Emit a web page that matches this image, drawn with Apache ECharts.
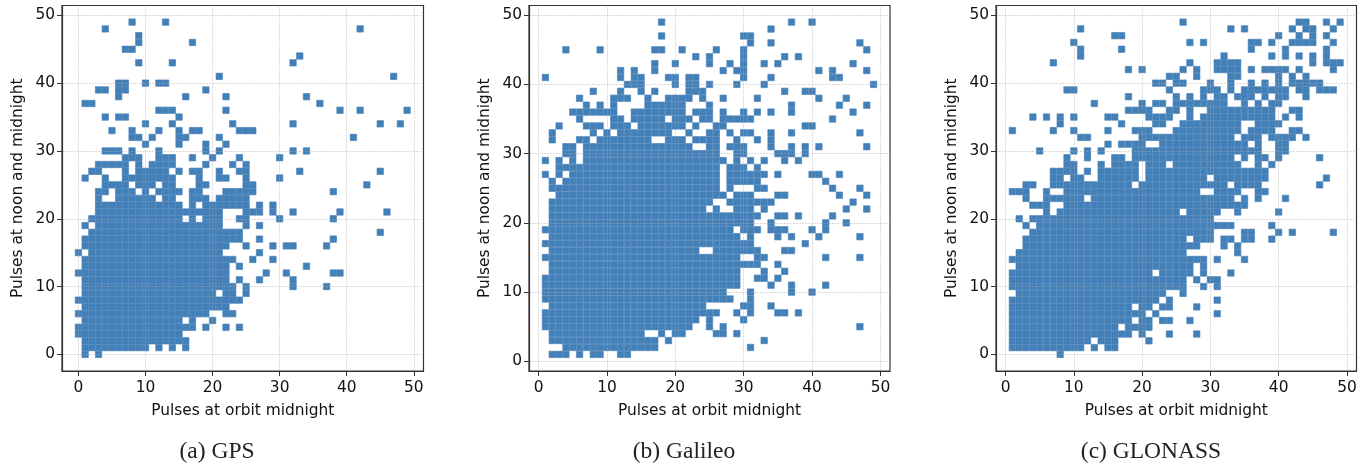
<!DOCTYPE html>
<html>
<head>
<meta charset="utf-8">
<style>
  html, body { margin: 0; padding: 0; background: #fff; }
  #chart { width: 1367px; height: 466px; }
</style>
<script src="https://cdn.jsdelivr.net/npm/echarts@6/dist/echarts.min.js"></script>
</head>
<body>
<div id="chart"></div>
<script>
// each row lists the x values seen at y = row index
const gpsRows = [
  [1,3],
  [1,2,3,4,5,6,7,8,9,10,12,14,16],
  [1,2,3,4,5,6,7,8,9,10,11,12,13,14,15,16],
  [0,1,2,3,4,5,6,7,8,9,10,11,12,13,14,15],
  [0,1,2,3,4,5,6,7,8,9,10,11,12,13,14,15,16,17,19,22,24],
  [1,2,3,4,5,6,7,8,9,10,11,12,13,14,15,17,20],
  [0,1,2,3,4,5,6,7,8,9,10,11,12,13,14,15,16,17,18,19,22,23],
  [1,2,3,4,5,6,7,8,9,10,11,12,13,14,15,16,17,18,19,20,21,22],
  [0,1,2,3,4,5,6,7,8,9,10,11,12,13,14,15,16,17,18,19,20,21,22,23,24],
  [1,2,3,4,5,6,7,8,9,10,11,12,13,14,15,16,17,18,19,20,22,23,25],
  [1,2,3,4,5,6,7,8,9,10,11,12,13,14,15,16,17,18,19,20,21,22,23,25,32,37],
  [1,2,3,4,5,6,7,8,9,10,11,12,13,14,15,16,17,18,19,20,21,22,24,27,32],
  [0,1,2,3,4,5,6,7,8,9,10,11,12,13,14,15,16,17,18,19,20,21,22,28,31,38,39],
  [1,2,3,4,5,6,7,8,9,10,11,12,13,14,15,16,17,18,19,20,21,22,24,34],
  [1,2,3,4,5,6,7,8,9,10,11,12,13,14,15,16,17,18,19,20,21,22,23,26,29],
  [0,2,3,4,5,6,7,8,9,10,11,12,13,14,15,16,17,18,19,20,21,27],
  [1,2,3,4,5,6,7,8,9,10,11,12,13,14,15,16,17,18,19,20,21,22,25,29,31,32,37],
  [1,2,3,4,5,6,7,8,9,10,11,12,13,14,15,16,17,18,19,20,21,22,23,24,27,38],
  [2,3,4,5,6,7,8,9,10,11,12,13,14,15,16,17,18,19,20,21,22,23,24,45],
  [1,3,4,5,6,7,8,9,10,11,12,13,14,15,16,17,18,19,20,21,25,27],
  [2,3,4,5,6,7,8,9,10,11,12,13,14,15,17,19,20,21,24,25,30,38],
  [3,4,5,6,7,8,9,10,11,12,13,14,15,16,17,18,19,20,21,25,26,27,29,32,39,46],
  [3,4,5,6,7,8,9,10,11,12,13,14,15,17,19,20,21,22,23,24,25,27,29],
  [3,6,7,8,9,10,11,13,14,17,18,19,21,22,23,24,25],
  [3,4,6,7,8,10,12,13,14,15,17,18,22,23,24,25,26,38],
  [4,5,6,7,9,10,11,13,14,18,19,25,26,43],
  [1,4,7,8,9,10,11,12,13,14,18,21,22,25,30],
  [2,3,7,9,10,11,12,13,15,17,18,21,24,25,33,45],
  [3,4,5,6,7,9,11,12,13,14,19,23,25],
  [7,8,9,12,13,14,17,20,24,30],
  [4,5,6,8,12,19,21,32,34],
  [10,15,19,22],
  [8,9,11,15,16,21,41],
  [5,8,12,15,17,18,24,25,26],
  [10,14,23,32,45,48],
  [4,6,7,15],
  [12,13,14,22,39,42,49],
  [1,2,36],
  [6,16,22,34],
  [3,4,6,7,19],
  [6,7,10,12,13],
  [21,47],
  [],
  [9,14,32],
  [33],
  [7,8],
  [9,17],
  [9],
  [4,42],
  [8,13]
];
const galileoRows = [
  [],
  [2,3,4,6,8,9,12,13],
  [4,5,6,7,8,9,10,11,12,13,14,15,16,17,31],
  [2,3,4,5,6,7,8,9,10,11,12,13,14,15,16,17,19,33],
  [2,3,4,5,6,7,8,9,10,11,12,13,14,15,18,20,21,26,27,29],
  [1,2,3,4,5,6,7,8,9,10,11,12,13,14,15,16,17,18,19,20,21,22,25,27,47],
  [1,2,3,4,5,6,7,8,9,10,11,12,13,14,15,16,17,18,19,20,21,22,23,25,30],
  [1,2,3,4,5,6,7,8,9,10,11,12,13,14,15,16,17,18,19,20,21,22,23,24,25,26,29,31,35,36,38],
  [2,3,4,5,6,7,8,9,10,11,12,13,14,15,16,17,18,19,20,21,22,23,24,30,31,34],
  [1,2,3,4,5,6,7,8,9,10,11,12,13,14,15,16,17,18,19,20,21,22,23,24,25,26,27,28,31],
  [1,2,3,4,5,6,7,8,9,10,11,12,13,14,15,16,17,18,19,20,21,22,23,24,25,26,27,31,37,40],
  [1,2,3,4,5,6,7,8,9,10,11,12,13,14,15,16,17,18,19,20,21,22,23,24,25,26,27,28,29,34,37,42],
  [1,2,3,4,5,6,7,8,9,10,11,12,13,14,15,16,17,18,19,20,21,22,23,24,25,26,27,28,29,32,33,35],
  [2,3,4,5,6,7,8,9,10,11,12,13,14,15,16,17,18,19,20,21,22,23,24,25,26,27,28,29,33,36],
  [2,3,4,5,6,7,8,9,10,11,12,13,14,15,16,17,18,19,20,21,22,23,24,25,26,27,28,29,30,31,32,35],
  [1,2,3,4,5,6,7,8,9,10,11,12,13,14,15,16,17,18,19,20,21,22,23,24,25,26,27,28,29,32,33,42,47],
  [2,3,4,5,6,7,8,9,10,11,12,13,14,15,16,17,18,19,20,21,22,23,26,27,28,29,30,31,32,36,37],
  [1,2,3,4,5,6,7,8,9,10,11,12,13,14,15,16,17,18,19,20,21,22,23,24,25,26,27,28,29,30,31,39],
  [2,3,4,5,6,7,8,9,10,11,12,13,14,15,16,17,18,19,20,21,22,23,24,25,26,27,28,29,31,35,37,41,47],
  [1,2,3,4,5,6,7,8,9,10,11,12,13,14,15,16,17,18,19,20,21,22,23,24,25,26,27,28,30,31,32,34,35,36,40,42],
  [2,3,4,5,6,7,8,9,10,11,12,13,14,15,16,17,18,19,20,21,22,23,24,25,26,27,28,29,30,31,34,42,45],
  [2,3,4,5,6,7,8,9,10,11,12,13,14,15,16,17,18,19,20,21,22,23,24,25,26,27,28,29,30,31,32,35,36,38,43],
  [2,3,4,5,6,7,8,9,10,11,12,13,14,15,16,17,18,19,20,21,22,23,24,26,29,30,31,33,45,48],
  [2,3,4,5,6,7,8,9,10,11,12,13,14,15,16,17,18,19,20,21,22,23,24,25,28,29,30,31,32,33,34,46],
  [3,4,5,6,7,8,9,10,11,12,13,14,15,16,17,18,19,20,21,22,23,24,25,26,27,29,30,31,35,36,44,48],
  [2,3,4,5,6,7,8,9,10,11,12,13,14,15,16,17,18,19,20,21,22,23,24,25,26,28,32,33,43,47],
  [2,4,5,6,7,8,9,10,11,12,13,14,15,16,17,18,19,20,21,22,23,24,25,26,28,29,30,31,32,42],
  [1,3,5,6,7,8,9,10,11,12,13,14,15,16,17,18,19,20,21,22,23,24,25,26,28,29,30,31,32,33,35,40,41,44],
  [3,4,5,6,7,8,9,10,11,12,13,14,15,16,17,18,19,20,21,22,23,24,25,26,28,29,30,32],
  [1,3,5,7,8,9,10,11,12,13,14,15,16,17,18,19,20,21,22,23,24,25,26,27,29,31,33,36,38],
  [4,5,7,8,9,10,11,12,13,14,15,16,17,18,19,20,21,22,23,24,25,26,29,30,35,36,37,39],
  [4,5,7,8,9,10,11,12,13,14,15,16,17,18,19,20,21,22,25,26,28,29,30,34,37,39,41,48],
  [2,6,7,9,10,11,12,13,14,15,16,19,20,21,23,24,25,26,29,32,34],
  [2,8,10,12,13,14,15,16,17,18,19,22,25,26,28,30,31,34,37,47],
  [3,7,8,9,11,12,13,15,16,17,18,19,20,21,23,26,27,39,40],
  [6,11,12,14,15,16,17,18,20,21,22,24,25,27,28,29,30,31,43],
  [5,6,7,8,9,10,11,14,15,16,17,18,19,20,21,23,24,25,27,30,32,34,37,46],
  [7,9,11,16,17,18,19,20,21,25,37,44,48],
  [6,11,12,13,16,19,20,21,22,24,27,32,41,45],
  [8,12,15,17,22,23,24,36,39,40],
  [13,14,15,20,22,23,25,29,33,49],
  [1,12,14,15,19,20,22,23,30,34,43,44],
  [12,14,17,27,29,30,41,43,48],
  [17,20,25,28,30,33,35,46],
  [23,25,30,36,38],
  [4,9,17,18,21,26,30,48],
  [31,34,47],
  [18,30,31],
  [34],
  [18,37,40]
];
const glonassRows = [
  [8],
  [1,2,3,4,5,6,7,8,9,10,11,13,15,16],
  [1,2,3,4,5,6,7,8,9,10,11,12,14,15,16,21],
  [1,2,3,4,5,6,7,8,9,10,11,12,13,14,15,16,17,18,20,24,28],
  [1,2,3,4,5,6,7,8,9,10,11,12,13,14,15,16,18,19,20,21],
  [1,2,3,4,5,6,7,8,9,10,11,12,13,14,15,16,17,18,20,21,23,24,27],
  [1,2,3,4,5,6,7,8,9,10,11,12,13,14,15,16,17,18,19,20,22,31],
  [1,2,3,4,5,6,7,8,9,10,11,12,13,14,15,16,17,18,20,21,23,24,28],
  [1,2,3,4,5,6,7,8,9,10,11,12,13,14,15,16,17,18,19,20,21,22,24,31],
  [2,3,4,5,6,7,8,9,10,11,12,13,14,15,16,17,18,19,20,21,22,23,26],
  [1,2,3,4,5,6,7,8,9,10,11,12,13,14,15,16,17,18,19,20,21,22,23,24,25,26,29,31],
  [1,2,3,4,5,6,7,8,9,10,11,12,13,14,15,16,17,18,19,20,21,22,23,24,25,26,28,30,31],
  [1,2,3,4,5,6,7,8,9,10,11,12,13,14,15,16,17,18,19,20,21,23,24,25,26,27,29,33],
  [2,3,4,5,6,7,8,9,10,11,12,13,14,15,16,17,18,19,20,21,22,23,24,25,26,27,29],
  [1,2,3,4,5,6,7,8,9,10,11,12,13,14,15,16,17,18,19,20,21,22,23,24,25,26,27,28,29,31,35],
  [2,3,4,5,6,7,8,9,10,11,12,13,14,15,16,17,18,19,20,21,22,23,24,25,26,34],
  [3,4,5,6,7,8,9,10,11,12,13,14,15,16,17,18,19,20,21,22,23,24,25,26,27,28,32,34],
  [3,4,5,6,7,8,9,10,11,12,13,14,15,16,17,18,19,20,21,22,23,24,25,26,28,29,30,32,33,35,36,39],
  [4,5,6,7,8,9,10,11,12,13,14,15,16,17,18,19,20,21,22,23,24,25,26,27,28,29,30,35,36,40,42,48],
  [3,5,6,7,8,9,10,11,12,13,14,15,16,17,18,19,20,21,22,23,24,25,26,27,28,29,30,31,32,33,39],
  [2,4,5,6,7,8,9,10,11,12,13,14,15,16,17,18,19,20,21,22,23,24,25,26,27,28,29,30],
  [6,8,9,10,11,12,13,14,15,16,17,18,19,20,21,22,23,24,25,27,28,29,30,31,34,40],
  [4,5,6,9,10,11,12,13,14,15,16,17,18,19,20,21,22,23,24,25,26,27,28,29,30,31,32,33,34,35],
  [3,6,7,8,9,10,11,13,14,15,16,17,18,19,20,21,22,23,24,25,26,27,28,29,30,31,32,33,35,37,41],
  [1,2,3,6,9,10,11,12,13,14,15,16,17,18,19,20,21,22,23,24,25,26,27,28,31,32,33,34,37,38],
  [3,4,7,8,9,10,11,12,13,14,15,16,17,18,20,21,22,23,24,25,26,27,28,29,30,31,32,34,35,36,37,46],
  [7,8,10,11,14,15,16,17,18,19,21,22,23,24,25,26,27,28,29,31,32,33,34,35,36,37,38,47],
  [7,8,9,10,12,14,15,16,17,18,19,21,22,23,24,25,26,27,28,29,30,31,32,33,34,35,36,37,38],
  [9,10,14,16,17,18,19,21,22,23,25,26,27,28,29,30,31,32,33,34,37,39],
  [9,12,16,17,19,20,21,22,23,24,25,26,27,28,29,30,31,32,33,35,37,38,40,46],
  [5,10,12,14,19,20,21,22,23,24,25,26,27,28,29,30,31,32,33,34,35,36,37,40,41],
  [15,17,18,19,20,23,24,25,26,27,28,29,30,31,32,33,34,35,37,40,41],
  [11,12,20,21,22,23,24,25,26,27,28,29,30,31,32,33,35,36,37,39,40,41,42,44],
  [1,7,10,15,19,20,21,25,26,27,28,29,30,31,32,33,34,36,37,38,39,42,43],
  [8,17,22,23,26,27,28,29,30,31,32,33,34,37,38,39,40],
  [4,6,8,10,15,16,21,22,23,24,27,29,30,31,32,33,34,35,36,37,38,39,41,43],
  [18,19,20,21,24,25,27,30,31,32,33,34,35,36,37,38,39,42,43],
  [13,20,22,23,25,26,27,28,29,30,31,32,35,37,39,40],
  [18,25,27,29,31,32,34,35,36,38,40,41,44],
  [9,10,24,29,30,31,33,35,36,37,38,39,40,41,43,44,46,47,48],
  [22,23,25,26,30,33,36,38,40,42,43,44,45,46],
  [24,25,28,33,34,40,42,44],
  [18,20,26,28,31,32,33,34,36,38,39,40,41,43,48],
  [7,27,31,32,33,34,45,47,48,49],
  [11,32,39,41,43,45,47],
  [11,17,36,41,47],
  [10,27,29,36,37,39,42,43,44,45,48],
  [16,17,40,43,45,47],
  [11,33,35,42,44,45,48],
  [26,43,44,47,49]
];
const tickValues = [0, 10, 20, 30, 40, 50];
const xTitle = 'Pulses at orbit midnight';
const yTitle = 'Pulses at noon and midnight';
const captions = ['(a) GPS', '(b) Galileo', '(c) GLONASS'];

const toPoints = rows => rows.flatMap((xs, y) => xs.map(x => [x, y]));
const panels = [
  { rows: gpsRows, box: [62, 5.5, 361.5, 365.5], x: [-2.45, 51.45], y: [-2.45, 51.45], cap: 217 },
  { rows: galileoRows, box: [529, 5.5, 361, 365.5], x: [-1.4, 51.4], y: [-1.4, 51.4], cap: 684 },
  { rows: glonassRows, box: [996, 5.5, 360.5, 365.5], x: [-1.4, 51.4], y: [-2.45, 51.45], cap: 1151 }
];

const font = 'DejaVu Sans';
const makeAxis = (type, range, title, idx) => ({
  type: 'value',
  gridIndex: idx,
  min: range[0],
  max: range[1],
  z: 5,
  name: title,
  nameLocation: 'middle',
  nameGap: type === 'x' ? 32 : 37,
  nameTextStyle: { fontFamily: font, fontSize: 15.4, color: '#111' },
  axisLine: { show: true, onZero: false, lineStyle: { color: '#333', width: 1.2 } },
  axisTick: { show: true, length: 5, customValues: tickValues, lineStyle: { color: '#333', width: 1 } },
  axisLabel: {
    fontFamily: font, fontSize: 15.4, color: '#111', customValues: tickValues,
    margin: type === 'x' ? 9 : 7,
    padding: type === 'x' ? 0 : [3, 0, 0, 0]
  },
  splitLine: { show: true, lineStyle: { color: 'rgba(170,170,170,0.55)', width: 0.8, type: [2, 1] } }
});

const chart = echarts.init(document.getElementById('chart'));
chart.setOption({
  animation: false,
  backgroundColor: '#fff',
  title: panels.map((p, i) => ({
    text: captions[i],
    left: p.cap,
    top: 440,
    padding: 0,
    textAlign: 'center',
    textStyle: { fontFamily: 'Liberation Serif', fontSize: 23.5, fontWeight: 'normal', color: '#222' }
  })),
  grid: panels.map(p => ({
    left: p.box[0], top: p.box[1], width: p.box[2], height: p.box[3],
    show: true, borderColor: '#333', borderWidth: 1.2, backgroundColor: '#fff'
  })),
  xAxis: panels.map((p, i) => makeAxis('x', p.x, xTitle, i)),
  yAxis: panels.map((p, i) => makeAxis('y', p.y, yTitle, i)),
  series: panels.map((p, i) => ({
    type: 'scatter',
    xAxisIndex: i,
    yAxisIndex: i,
    symbol: 'rect',
    symbolSize: 6.4,
    silent: true,
    large: false,
    data: toPoints(p.rows),
    itemStyle: { color: '#4480b8', borderColor: 'rgba(68,128,184,0.8)', borderWidth: 0.8, opacity: 1 }
  }))
});
</script>
</body>
</html>
